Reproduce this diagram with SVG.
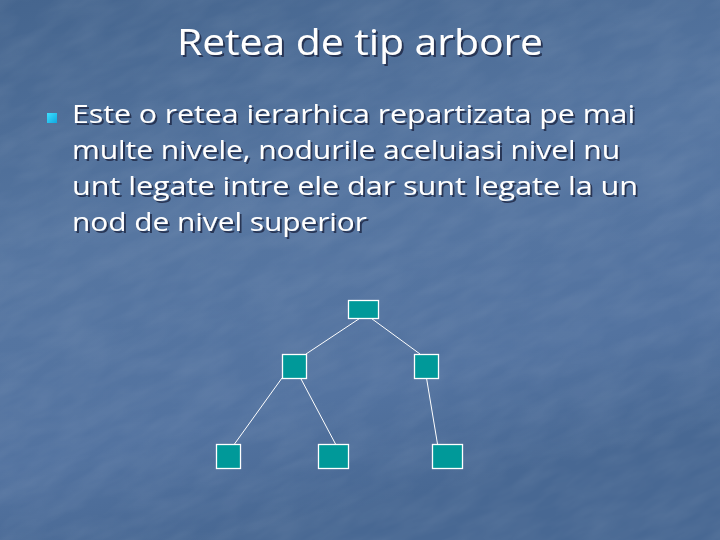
<svg xmlns="http://www.w3.org/2000/svg" width="720" height="540" viewBox="0 0 720 540">
<defs>
<linearGradient id="bg" x1="0" y1="0" x2="0.3" y2="1">
<stop offset="0" stop-color="#45658e"/>
<stop offset="0.45" stop-color="#5676a1"/>
<stop offset="0.8" stop-color="#5373a0"/>
<stop offset="1" stop-color="#486893"/>
</linearGradient>
<filter id="tex" x="0" y="0" width="100%" height="100%">
<feTurbulence type="fractalNoise" baseFrequency="0.02 0.06" numOctaves="3" seed="4" result="n"/>
<feColorMatrix in="n" type="matrix" values="0 0 0 0 1  0 0 0 0 1  0 0 0 0 1  0 0 0 0.35 -0.1"/>
</filter>
<linearGradient id="bul" x1="0" y1="0" x2="1" y2="1">
<stop offset="0" stop-color="#3fe0ff"/>
<stop offset="1" stop-color="#0fa8e0"/>
</linearGradient>
<filter id="sh" x="-5%" y="-20%" width="110%" height="140%">
<feDropShadow dx="2" dy="2" stdDeviation="0.6" flood-color="#1a2c48" flood-opacity="0.85"/>
</filter>
<style>
.title{font-family:"Open Sans","DejaVu Sans",sans-serif;font-size:37px;fill:#ffffff}
.body{font-family:"Open Sans","DejaVu Sans",sans-serif;font-size:25px;fill:#ffffff}
.node{fill:#009999;stroke:#ffffff;stroke-width:1.3}
.edge{stroke:#ffffff;stroke-width:1;fill:none}
</style>
</defs>
<rect width="720" height="540" fill="url(#bg)"/>
<g transform="rotate(-25 360 270)"><rect x="-200" y="-200" width="1120" height="940" filter="url(#tex)" opacity="0.3"/></g>
<text class="title" x="177" y="55" textLength="366" lengthAdjust="spacingAndGlyphs" filter="url(#sh)">Retea de tip arbore</text>
<rect x="47" y="113" width="10" height="10" fill="url(#bul)"/>
<g filter="url(#sh)">
<text class="body" x="72" y="123" textLength="563" lengthAdjust="spacingAndGlyphs">Este o retea ierarhica repartizata pe mai</text>
<text class="body" x="72" y="159" textLength="548" lengthAdjust="spacingAndGlyphs">multe nivele, nodurile aceluiasi nivel nu</text>
<text class="body" x="72" y="195" textLength="566" lengthAdjust="spacingAndGlyphs">unt legate intre ele dar sunt legate la un</text>
<text class="body" x="72" y="231" textLength="295" lengthAdjust="spacingAndGlyphs">nod de nivel superior</text>
</g>
<g id="connectors">
<line class="edge" x1="359.5" y1="318.5" x2="306" y2="354"/>
<line class="edge" x1="371.5" y1="318.5" x2="420" y2="354"/>
<line class="edge" x1="282" y1="378" x2="234.5" y2="444"/>
<line class="edge" x1="300.5" y1="378" x2="335.5" y2="444"/>
<line class="edge" x1="426.5" y1="378" x2="437.5" y2="444"/>
</g>
<g id="n-root"><rect class="node" x="348.5" y="300.5" width="30" height="18"/></g>
<g id="n-mid-left"><rect class="node" x="282.5" y="354.5" width="24" height="24"/></g>
<g id="n-mid-right"><rect class="node" x="414.5" y="354.5" width="24" height="24"/></g>
<g id="n-bottom-left"><rect class="node" x="216.5" y="444.5" width="24" height="24"/></g>
<g id="n-bottom-mid"><rect class="node" x="318.5" y="444.5" width="30" height="24"/></g>
<g id="n-bottom-right"><rect class="node" x="432.5" y="444.5" width="30" height="24"/></g>
</svg>
